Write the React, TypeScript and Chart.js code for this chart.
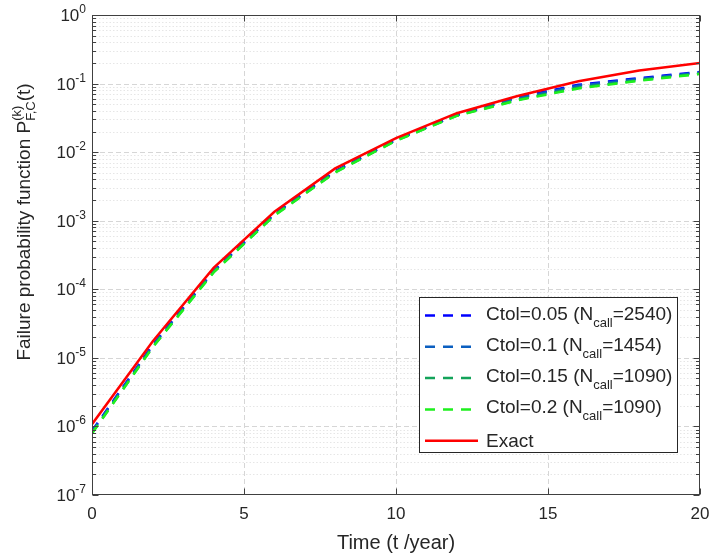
import React, { useEffect, useRef } from 'react';
import { Chart, registerables } from 'chart.js';

Chart.register(...registerables);

// Time grid (years) and failure probability estimates
const years = [0, 2, 4, 6, 8, 10, 12, 14, 16, 18, 20];
const pfCtol005 = [8.6e-7, 1.55e-5, 1.85e-4, 1.26e-3, 5.3e-3, 1.52e-2, 3.5e-2, 6.3e-2, 9.6e-2, 1.2e-1, 1.48e-1];
const pfCtol01 = [8.4e-7, 1.5e-5, 1.82e-4, 1.23e-3, 5.2e-3, 1.5e-2, 3.45e-2, 6.1e-2, 9.3e-2, 1.17e-1, 1.45e-1];
const pfCtol015 = [8.0e-7, 1.45e-5, 1.78e-4, 1.2e-3, 5.1e-3, 1.48e-2, 3.4e-2, 5.8e-2, 8.7e-2, 1.12e-1, 1.4e-1];
const pfCtol02 = [7.9e-7, 1.43e-5, 1.76e-4, 1.19e-3, 5.05e-3, 1.47e-2, 3.38e-2, 5.7e-2, 8.5e-2, 1.1e-1, 1.38e-1];
const pfExact = [1.08e-6, 1.75e-5, 2.05e-4, 1.35e-3, 5.8e-3, 1.6e-2, 3.7e-2, 6.6e-2, 1.08e-1, 1.55e-1, 2.0e-1];

const seriesLabels = ['Ctol=0.05', 'Ctol=0.1', 'Ctol=0.15', 'Ctol=0.2'];
const callCounts = [2540, 1454, 1090, 1090];
const seriesColors = ['#0000ff', '#0b5fc0', '#13a35a', '#1ef01e'];
const exactLabel = 'Exact';
const exactColor = '#ff0000';

const xTickValues = [0, 5, 10, 15, 20];
const yTickExponents = [-7, -6, -5, -4, -3, -2, -1, 0];
const xTitle = 'Time (t /year)';
const yTitleMain = 'Failure probability function P';
const yTitleSup = '(k)';
const yTitleSub = 'F,C';
const yTitleTail = '(t)';

const FAMILY = '"Liberation Sans", Arial, Helvetica, sans-serif';
const font = (px: number) => `${px}px ${FAMILY}`;
const TEXT = '#262626';
const AXIS = '#404040';
const DASH = [10, 8];

type Part = { text: string; size: number; dy: number };

// Draws a run of text pieces left to right, returning the total advance
function drawParts(ctx: CanvasRenderingContext2D, parts: Part[], x: number, y: number) {
  let cx = x;
  for (const p of parts) {
    ctx.font = font(p.size);
    ctx.fillText(p.text, cx, y + p.dy);
    cx += ctx.measureText(p.text).width;
  }
  return cx - x;
}

function measureParts(ctx: CanvasRenderingContext2D, parts: Part[]) {
  let w = 0;
  for (const p of parts) {
    ctx.font = font(p.size);
    w += ctx.measureText(p.text).width;
  }
  return w;
}

function hLine(ctx: CanvasRenderingContext2D, x0: number, x1: number, y: number) {
  ctx.beginPath();
  ctx.moveTo(x0, y);
  ctx.lineTo(x1, y);
  ctx.stroke();
}
function vLine(ctx: CanvasRenderingContext2D, x: number, y0: number, y1: number) {
  ctx.beginPath();
  ctx.moveTo(x, y0);
  ctx.lineTo(x, y1);
  ctx.stroke();
}

const axesDecor = {
  id: 'axesDecor',
  beforeDatasetsDraw(chart: any) {
    const { ctx, chartArea: a, scales } = chart;
    const xs = scales.x;
    const ys = scales.y;
    ctx.save();
    ctx.lineWidth = 1;
    // minor y grid (dotted)
    ctx.strokeStyle = '#e6e6e6';
    ctx.setLineDash([1.5, 2]);
    for (let e = yTickExponents[0]; e < yTickExponents[yTickExponents.length - 1]; e++) {
      for (let m = 2; m <= 9; m++) {
        const py = Math.round(ys.getPixelForValue(m * Math.pow(10, e))) + 0.5;
        hLine(ctx, a.left, a.right, py);
      }
    }
    // major grid (dashed)
    ctx.strokeStyle = '#d6d6d6';
    ctx.setLineDash([5, 3]);
    for (const e of yTickExponents) {
      const py = Math.round(ys.getPixelForValue(Math.pow(10, e))) + 0.5;
      if (py < a.top + 1 || py > a.bottom - 1) continue;
      hLine(ctx, a.left, a.right, py);
    }
    for (const v of xTickValues) {
      const px = Math.round(xs.getPixelForValue(v)) + 0.5;
      if (px < a.left + 1 || px > a.right - 1) continue;
      vLine(ctx, px, a.top, a.bottom);
    }
    ctx.restore();
  },
  afterDatasetsDraw(chart: any) {
    const { ctx, chartArea: a, scales } = chart;
    const xs = scales.x;
    const ys = scales.y;
    ctx.save();
    ctx.setLineDash([]);
    ctx.lineWidth = 1;
    ctx.strokeStyle = AXIS;
    const L = Math.round(a.left) + 0.5;
    const R = Math.round(a.right) - 0.5;
    const T = Math.round(a.top) + 0.5;
    const B = Math.round(a.bottom) - 0.5;
    ctx.strokeRect(L, T, R - L, B - T);

    // y ticks (major + minor), inside on both sides
    for (let e = yTickExponents[0]; e <= yTickExponents[yTickExponents.length - 1]; e++) {
      for (let m = 1; m <= 9; m++) {
        if (e === yTickExponents[yTickExponents.length - 1] && m > 1) break;
        const py = Math.round(ys.getPixelForValue(m * Math.pow(10, e))) + 0.5;
        const len = m === 1 ? 6 : 3.5;
        hLine(ctx, L, L + len, py);
        hLine(ctx, R - len, R, py);
      }
    }
    // x ticks
    for (const v of xTickValues) {
      const px = Math.round(xs.getPixelForValue(v)) + 0.5;
      vLine(ctx, px, B - 6, B);
      vLine(ctx, px, T, T + 6);
    }

    ctx.fillStyle = TEXT;
    // y tick labels: 10^e
    ctx.textBaseline = 'alphabetic';
    ctx.textAlign = 'left';
    for (const e of yTickExponents) {
      const py = ys.getPixelForValue(Math.pow(10, e));
      const parts: Part[] = [
        { text: '10', size: 17, dy: 0 },
        { text: String(e), size: 12, dy: -8 },
      ];
      const w = measureParts(ctx, parts);
      drawParts(ctx, parts, a.left - 6 - w, py + 6);
    }
    // x tick labels
    ctx.font = font(17);
    ctx.textAlign = 'center';
    ctx.textBaseline = 'middle';
    for (const v of xTickValues) {
      ctx.fillText(String(v), xs.getPixelForValue(v), 514);
    }
    // x title
    ctx.font = font(20);
    ctx.fillText(xTitle, (a.left + a.right) / 2, 543);

    // y title, rotated, with stacked super/subscript
    ctx.save();
    ctx.translate(30, 222);
    ctx.rotate(-Math.PI / 2);
    ctx.textAlign = 'left';
    ctx.textBaseline = 'alphabetic';
    ctx.font = font(19);
    const wMain = ctx.measureText(yTitleMain).width;
    const wTail = ctx.measureText(yTitleTail).width;
    ctx.font = font(13);
    const wSup = ctx.measureText(yTitleSup).width;
    const wSub = ctx.measureText(yTitleSub).width;
    const wStack = Math.max(wSup, wSub);
    const total = wMain + wStack + wTail;
    let x0 = -total / 2;
    ctx.font = font(19);
    ctx.fillText(yTitleMain, x0, 0);
    x0 += wMain;
    ctx.font = font(13);
    ctx.fillText(yTitleSup, x0, -9);
    ctx.fillText(yTitleSub, x0, 5);
    x0 += wStack;
    ctx.font = font(19);
    ctx.fillText(yTitleTail, x0, 0);
    ctx.restore();

    // legend box
    const bx = 419.5, by = 297.5, bw = 258, bh = 155;
    ctx.fillStyle = '#ffffff';
    ctx.fillRect(bx, by, bw, bh);
    ctx.strokeStyle = TEXT;
    ctx.lineWidth = 1;
    ctx.strokeRect(bx, by, bw, bh);
    const rowY = (i: number) => 315.5 + i * 31.3;
    ctx.textAlign = 'left';
    ctx.textBaseline = 'alphabetic';
    seriesLabels.forEach((lab, i) => {
      const y = rowY(i);
      ctx.strokeStyle = seriesColors[i];
      ctx.lineWidth = 2.5;
      ctx.setLineDash(DASH);
      hLine(ctx, 425, 478, y);
      ctx.setLineDash([]);
      ctx.fillStyle = TEXT;
      drawParts(ctx, [
        { text: `${lab} (N`, size: 19, dy: 0 },
        { text: 'call', size: 13, dy: 7 },
        { text: `=${callCounts[i]})`, size: 19, dy: 0 },
      ], 486, y + 4);
    });
    const ey = rowY(4);
    ctx.strokeStyle = exactColor;
    ctx.lineWidth = 2.5;
    hLine(ctx, 425, 478, ey);
    ctx.fillStyle = TEXT;
    ctx.font = font(19);
    ctx.fillText(exactLabel, 486, ey + 6);
    ctx.restore();
  },
};

export default function App() {
  const canvasRef = useRef<HTMLCanvasElement>(null);

  useEffect(() => {
    const estimates = [pfCtol005, pfCtol01, pfCtol015, pfCtol02];
    const datasets: any[] = estimates.map((vals, i) => ({
      label: seriesLabels[i],
      data: years.map((t, k) => ({ x: t, y: vals[k] })),
      borderColor: seriesColors[i],
      borderWidth: 2.5,
      borderDash: DASH,
      pointRadius: 0,
      fill: false,
      order: 4 - i,
    }));
    datasets.push({
      label: exactLabel,
      data: years.map((t, k) => ({ x: t, y: pfExact[k] })),
      borderColor: exactColor,
      borderWidth: 2.5,
      pointRadius: 0,
      fill: false,
      order: 0,
    });

    const chart = new Chart(canvasRef.current as HTMLCanvasElement, {
      type: 'line',
      data: { datasets },
      options: {
        animation: false,
        responsive: false,
        devicePixelRatio: 1,
        layout: { padding: { top: 15, right: 13, left: 0, bottom: 0 } },
        elements: { line: { tension: 0 }, point: { radius: 0 } },
        plugins: { legend: { display: false }, tooltip: { enabled: false } },
        scales: {
          x: {
            type: 'linear',
            min: 0,
            max: 20,
            grid: { display: false },
            border: { display: false },
            ticks: { display: false },
            afterFit: (s: any) => { s.height = 64; },
          },
          y: {
            type: 'logarithmic',
            min: 1e-7,
            max: 1,
            grid: { display: false },
            border: { display: false },
            ticks: { display: false },
            afterFit: (s: any) => { s.width = 92; },
          },
        },
      } as any,
      plugins: [axesDecor],
    });
    return () => chart.destroy();
  }, []);

  return (
    <div style={{ position: 'fixed', left: 0, top: 0, width: 713, height: 559, background: '#ffffff' }}>
      <canvas ref={canvasRef} width={713} height={559} style={{ display: 'block' }} />
    </div>
  );
}
